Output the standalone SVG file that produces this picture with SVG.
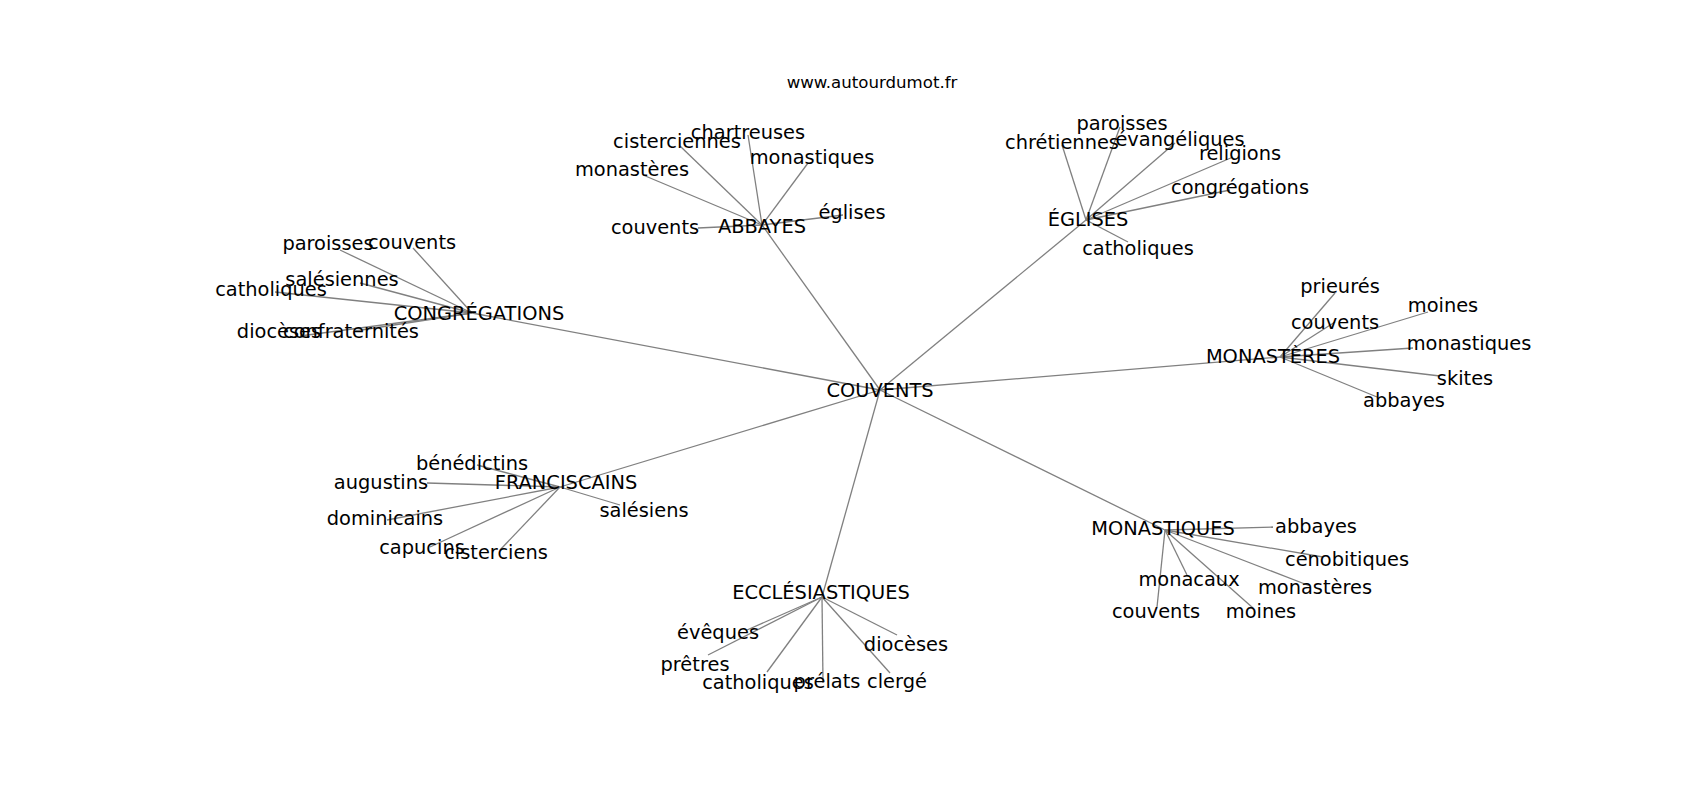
<svg xmlns="http://www.w3.org/2000/svg" width="1700" height="800" viewBox="0 0 1700 800">
<style>
.e{stroke:#808080;stroke-width:1.3;fill:none}
text{font-family:"DejaVu Sans",sans-serif;font-size:19.4px;fill:#000;text-anchor:middle}
.t{font-size:16.6px}
</style>
<rect width="1700" height="800" fill="#fff"/>
<g id="connectors">
<line class="e" x1="880" y1="390" x2="762" y2="225"/>
<line class="e" x1="880" y1="390" x2="1086" y2="220"/>
<line class="e" x1="880" y1="390" x2="472" y2="313"/>
<line class="e" x1="880" y1="390" x2="1280" y2="357"/>
<line class="e" x1="880" y1="390" x2="560" y2="487"/>
<line class="e" x1="880" y1="390" x2="822" y2="597"/>
<line class="e" x1="880" y1="390" x2="1165" y2="530"/>
<line class="e" x1="762" y1="225" x2="698" y2="228"/>
<line class="e" x1="762" y1="225" x2="643" y2="175"/>
<line class="e" x1="762" y1="225" x2="680" y2="146"/>
<line class="e" x1="762" y1="225" x2="748" y2="135"/>
<line class="e" x1="762" y1="225" x2="808" y2="163"/>
<line class="e" x1="762" y1="225" x2="843" y2="215"/>
<line class="e" x1="1086" y1="220" x2="1120" y2="127"/>
<line class="e" x1="1086" y1="220" x2="1062" y2="145"/>
<line class="e" x1="1086" y1="220" x2="1175" y2="143"/>
<line class="e" x1="1086" y1="220" x2="1233" y2="157"/>
<line class="e" x1="1086" y1="220" x2="1230" y2="190"/>
<line class="e" x1="1086" y1="220" x2="1128" y2="242"/>
<line class="e" x1="472" y1="313" x2="340" y2="250"/>
<line class="e" x1="472" y1="313" x2="413" y2="248"/>
<line class="e" x1="472" y1="313" x2="360" y2="283"/>
<line class="e" x1="472" y1="313" x2="275" y2="292"/>
<line class="e" x1="472" y1="313" x2="300" y2="336"/>
<line class="e" x1="472" y1="313" x2="355" y2="331"/>
<line class="e" x1="1280" y1="357" x2="1335" y2="293"/>
<line class="e" x1="1280" y1="357" x2="1335" y2="322"/>
<line class="e" x1="1280" y1="357" x2="1428" y2="312"/>
<line class="e" x1="1280" y1="357" x2="1413" y2="348"/>
<line class="e" x1="1280" y1="357" x2="1440" y2="376"/>
<line class="e" x1="1280" y1="357" x2="1377" y2="397"/>
<line class="e" x1="560" y1="487" x2="477" y2="465"/>
<line class="e" x1="560" y1="487" x2="427" y2="483"/>
<line class="e" x1="560" y1="487" x2="620" y2="505"/>
<line class="e" x1="560" y1="487" x2="387" y2="520"/>
<line class="e" x1="560" y1="487" x2="430" y2="547"/>
<line class="e" x1="560" y1="487" x2="500" y2="550"/>
<line class="e" x1="1165" y1="530" x2="1273" y2="527"/>
<line class="e" x1="1165" y1="530" x2="1323" y2="557"/>
<line class="e" x1="1165" y1="530" x2="1187" y2="575"/>
<line class="e" x1="1165" y1="530" x2="1310" y2="586"/>
<line class="e" x1="1165" y1="530" x2="1157" y2="607"/>
<line class="e" x1="1165" y1="530" x2="1253" y2="608"/>
<line class="e" x1="822" y1="597" x2="747" y2="630"/>
<line class="e" x1="822" y1="597" x2="708" y2="655"/>
<line class="e" x1="822" y1="597" x2="767" y2="672"/>
<line class="e" x1="822" y1="597" x2="823" y2="683"/>
<line class="e" x1="822" y1="597" x2="890" y2="673"/>
<line class="e" x1="822" y1="597" x2="897" y2="635"/>
</g>
<g id="title"><text class="t" x="872" y="88">www.autourdumot.fr</text></g>
<g id="n-couvents"><text x="880" y="397">COUVENTS</text></g>
<g id="n-abbayes">
<text x="762" y="233">ABBAYES</text>
<text x="655" y="234">couvents</text>
<text x="632" y="176">monastères</text>
<text x="677" y="148">cisterciennes</text>
<text x="748" y="139">chartreuses</text>
<text x="812" y="164">monastiques</text>
<text x="852" y="219">églises</text>
</g>
<g id="n-eglises">
<text x="1088" y="226">ÉGLISES</text>
<text x="1122" y="130">paroisses</text>
<text x="1062" y="149">chrétiennes</text>
<text x="1180" y="146">évangéliques</text>
<text x="1240" y="160">religions</text>
<text x="1240" y="194">congrégations</text>
<text x="1138" y="255">catholiques</text>
</g>
<g id="n-congregations">
<text x="479" y="320">CONGRÉGATIONS</text>
<text x="328" y="250">paroisses</text>
<text x="412" y="249">couvents</text>
<text x="342" y="286">salésiennes</text>
<text x="271" y="296">catholiques</text>
<text x="279" y="338">diocèses</text>
<text x="351" y="338">confraternités</text>
</g>
<g id="n-monasteres">
<text x="1273" y="363">MONASTÈRES</text>
<text x="1340" y="293">prieurés</text>
<text x="1335" y="329">couvents</text>
<text x="1443" y="312">moines</text>
<text x="1469" y="350">monastiques</text>
<text x="1465" y="385">skites</text>
<text x="1404" y="407">abbayes</text>
</g>
<g id="n-franciscains">
<text x="566" y="489">FRANCISCAINS</text>
<text x="472" y="470">bénédictins</text>
<text x="381" y="489">augustins</text>
<text x="644" y="517">salésiens</text>
<text x="385" y="525">dominicains</text>
<text x="422" y="554">capucins</text>
<text x="496" y="559">cisterciens</text>
</g>
<g id="n-monastiques">
<text x="1163" y="535">MONASTIQUES</text>
<text x="1316" y="533">abbayes</text>
<text x="1347" y="566">cénobitiques</text>
<text x="1189" y="586">monacaux</text>
<text x="1315" y="594">monastères</text>
<text x="1156" y="618">couvents</text>
<text x="1261" y="618">moines</text>
</g>
<g id="n-ecclesiastiques">
<text x="821" y="599">ECCLÉSIASTIQUES</text>
<text x="718" y="639">évêques</text>
<text x="695" y="671">prêtres</text>
<text x="758" y="689">catholiques</text>
<text x="827" y="688">prélats</text>
<text x="897" y="688">clergé</text>
<text x="906" y="651">diocèses</text>
</g>
</svg>
